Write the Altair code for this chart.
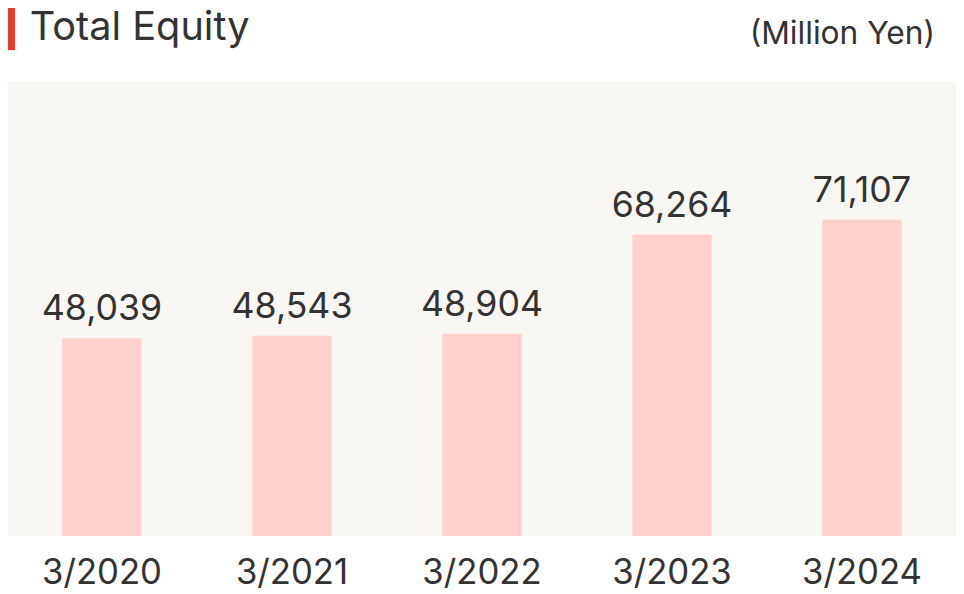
import altair as alt
import pandas as pd

periods = ["3/2020", "3/2021", "3/2022", "3/2023", "3/2024"]
equity = [48039, 48543, 48904, 68264, 71107]
labels = ["48,039", "48,543", "48,904", "68,264", "71,107"]

df = pd.DataFrame({"period": periods, "equity": equity, "label": labels})

FONT = "Inter"
TXT = "#333333"

xenc = alt.X(
    "period:N", sort=periods, title=None,
    scale=alt.Scale(paddingInner=0.5825, paddingOuter=0.286),
    axis=alt.Axis(labelFontSize=35, labelColor=TXT, labelFont=FONT, ticks=False,
                  tickSize=0, domain=False, labelAngle=0, labelBaseline="alphabetic",
                  labelPadding=48, grid=False),
)
yenc = alt.Y("equity:Q", scale=alt.Scale(domain=[9500, 98000], zero=False, clamp=True), axis=None)

base = alt.Chart(df)
bars = base.mark_bar(color="#FFD0CC").encode(x=xenc, y=yenc)
vals = base.mark_text(font=FONT, fontSize=36, color=TXT, baseline="alphabetic", dy=-18).encode(
    x=alt.X("period:N", sort=periods), y=yenc, text="label:N")

one = alt.Data(values=[{"a": 1}])
accent = alt.Chart(one).mark_rect(color="#E8392A").encode(
    x=alt.value(0), x2=alt.value(7), y=alt.value(-80), y2=alt.value(-32))
title = alt.Chart(one).mark_text(text="Total Equity", font=FONT, fontSize=40, color=TXT,
                                 align="left", baseline="alphabetic").encode(
    x=alt.value(22), y=alt.value(-42))
unit = alt.Chart(one).mark_text(text="(Million Yen)", font=FONT, fontSize=32, color=TXT,
                                align="right", baseline="alphabetic").encode(
    x=alt.value(935), y=alt.value(-38))

chart = alt.layer(bars, vals, accent, title, unit).properties(
    width=956, height=458,
    autosize=alt.AutoSizeParams(type="none"),
    padding={"left": 0, "top": 72, "right": 0, "bottom": 58},
    background="white",
).configure_view(fill="#F9F7F3", strokeWidth=0)

chart.save("out.html", embed_options={"renderer": "svg", "actions": False})
